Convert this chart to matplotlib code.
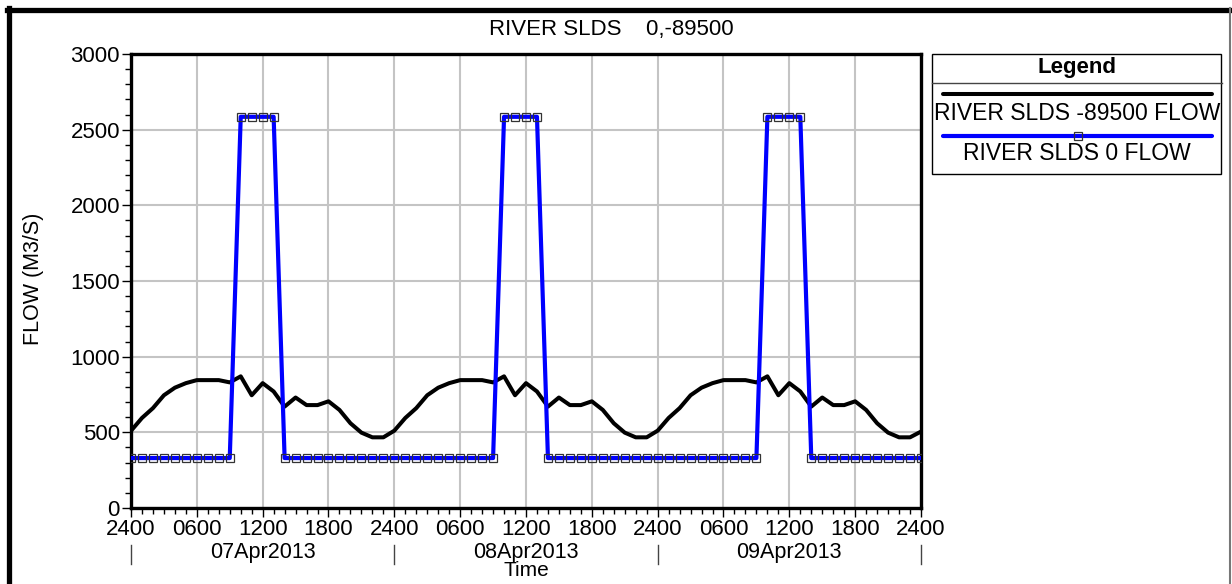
import matplotlib
matplotlib.use("Agg")
import matplotlib.pyplot as plt
from matplotlib.lines import Line2D
from matplotlib.ticker import MultipleLocator, FixedLocator

plt.rcParams['font.family'] = ['Liberation Sans', 'DejaVu Sans']

# === Dati (orari, 06Apr2013 2400 -> 09Apr2013 2400) ===
hours = list(range(73))

flow_89500 = [510, 595, 660, 745, 795, 825, 845, 845, 845, 830, 870, 745,
              825, 770, 670, 730, 680, 680, 705, 648, 560, 498, 467, 467,
              511, 595, 660, 745, 795, 825, 845, 845, 845, 830, 870, 745,
              825, 770, 670, 730, 680, 680, 705, 648, 560, 498, 467, 467,
              511, 595, 660, 745, 795, 825, 845, 845, 845, 830, 870, 745,
              825, 770, 670, 730, 680, 680, 705, 648, 560, 498, 467, 467,
              505]

flow_0 = [330, 330, 330, 330, 330, 330, 330, 330, 330, 330, 2585, 2585,
          2585, 2585, 330, 330, 330, 330, 330, 330, 330, 330, 330, 330,
          330, 330, 330, 330, 330, 330, 330, 330, 330, 330, 2585, 2585,
          2585, 2585, 330, 330, 330, 330, 330, 330, 330, 330, 330, 330,
          330, 330, 330, 330, 330, 330, 330, 330, 330, 330, 2585, 2585,
          2585, 2585, 330, 330, 330, 330, 330, 330, 330, 330, 330, 330,
          330]

tick_hours = [0, 6, 12, 18, 24, 30, 36, 42, 48, 54, 60, 66, 72]
tick_labels = ["2400", "0600", "1200", "1800", "2400", "0600", "1200",
               "1800", "2400", "0600", "1200", "1800", "2400"]
day_labels = ["07Apr2013", "08Apr2013", "09Apr2013"]
day_start = [0, 24, 48, 72]

W, H = 1232, 584
def fx(x):
    return x / W
def fy(y):
    return 1 - y / H

fig = plt.figure(figsize=(W / 100, H / 100), dpi=100)
ax = fig.add_axes([fx(131), fy(508), fx(921) - fx(131), fy(54) - fy(508)])

ax.plot(hours, flow_89500, color='black', lw=2.9, zorder=3,
        solid_joinstyle='round')
ax.plot(hours, flow_0, color='#0000ff', lw=3.0, zorder=4,
        marker='s', markersize=6, markerfacecolor='none',
        markeredgecolor='#333333', markeredgewidth=0.9)

ax.set_xlim(0, 72)
ax.set_ylim(0, 3000)
ax.xaxis.set_major_locator(FixedLocator(tick_hours))
ax.set_xticklabels(tick_labels)
ax.xaxis.set_minor_locator(MultipleLocator(1))
ax.yaxis.set_major_locator(MultipleLocator(500))
ax.yaxis.set_minor_locator(MultipleLocator(100))
ax.grid(True, which='major', color='#c4c4c4', lw=1.5, zorder=0)
ax.tick_params(which='major', direction='out', length=6.5, width=1,
               labelsize=16, pad=1.5)
ax.tick_params(which='minor', direction='out', length=4, width=1)
ax.tick_params(axis='x', which='major', pad=1.5)
for s in ax.spines.values():
    s.set_linewidth(2.4)

# etichette giorni + separatori
for i, lab in enumerate(day_labels):
    xc = (day_start[i] + day_start[i + 1]) / 2
    ax.text(xc, -0.097, lab, transform=ax.get_xaxis_transform(),
            ha='center', va='center', fontsize=15.5)
for d in day_start:
    ax.plot([d, d], [-0.082, -0.123], transform=ax.get_xaxis_transform(),
            color='#444444', lw=1, clip_on=False)

fig.text(fx(526), fy(571), "Time", ha='center', va='center', fontsize=15)
fig.text(fx(33), fy(279), "FLOW (M3/S)", rotation=90, ha='center',
         va='center', fontsize=15.5)
fig.text(fx(611), fy(30), "RIVER SLDS    0,-89500", ha='center',
         va='center', fontsize=16)

# cornice esterna
fig.add_artist(Line2D([fx(9), fx(9)], [fy(8), 0], color='black', lw=3.8))
fig.add_artist(Line2D([fx(7), fx(1231)], [fy(10), fy(10)], color='black', lw=3.8))
fig.add_artist(Line2D([fx(1230), fx(1230)], [fy(8), 0], color='#777777', lw=1.5))

# === Legenda ===
lx0, lx1, ly0, ly1 = 932, 1221, 54, 174
fig.add_artist(plt.Rectangle((fx(lx0), fy(ly1)), fx(lx1) - fx(lx0),
                             fy(ly0) - fy(ly1), fill=False,
                             edgecolor='black', lw=1))
fig.add_artist(Line2D([fx(lx0), fx(1222)], [fy(83), fy(83)], color='#444444', lw=1))
fig.text(fx(1077), fy(67), "Legend", ha='center', va='center',
         fontsize=16, fontweight='bold')
fig.add_artist(Line2D([fx(943), fx(1212)], [fy(94), fy(94)], color='black',
                      lw=2.9, solid_capstyle='round'))
fig.text(fx(1077), fy(114), "RIVER SLDS -89500 FLOW", ha='center',
         va='center', fontsize=16.5)
fig.add_artist(Line2D([fx(943), fx(1212)], [fy(136), fy(136)], color='#0000ff',
                      lw=3.0, solid_capstyle='round'))
fig.add_artist(Line2D([fx(1078)], [fy(136)], marker='s', markersize=6,
                      markerfacecolor='none', markeredgecolor='#333333',
                      markeredgewidth=0.9, lw=0))
fig.text(fx(1077), fy(153), "RIVER SLDS 0 FLOW", ha='center', va='center',
         fontsize=16.5)

fig.savefig("out.png", dpi=100)
